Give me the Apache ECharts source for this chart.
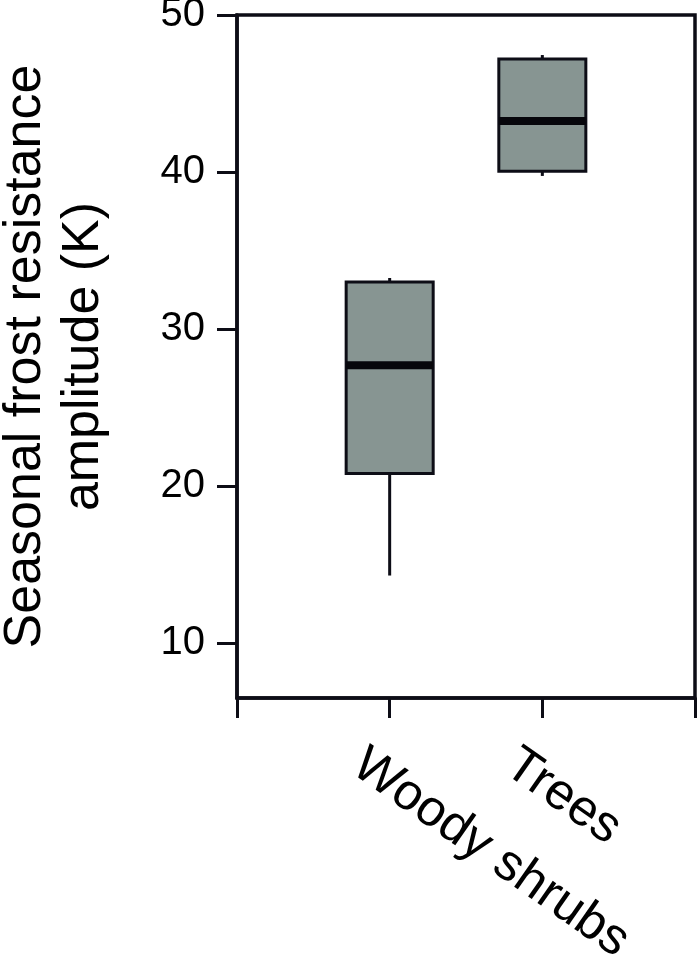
<!DOCTYPE html>
<html>
<head>
<meta charset="utf-8">
<script src="https://cdn.jsdelivr.net/npm/echarts@6/dist/echarts.min.js"></script>
<style>
html,body{margin:0;padding:0;background:#fff;}
#chart{width:700px;height:967px;}
</style>
</head>
<body>
<div id="chart"></div>
<script>
var categories = ['Woody shrubs', 'Trees'];
var minVals = [14.3, 39.75];
var q1Vals = [20.8, 40.05];
var medianVals = [27.7, 43.25];
var q3Vals = [33.0, 47.2];
var maxVals = [33.25, 47.45];
var yTicks = [10, 20, 30, 40, 50];
var yName = 'Seasonal frost resistance\namplitude (K)';

var boxData = categories.map(function (c, i) {
  return [i + 1, minVals[i], q1Vals[i], medianVals[i], q3Vals[i], maxVals[i]];
});

var ink = '#0d0d16';
var font = 'Liberation Sans, Arial, sans-serif';

var chart = echarts.init(document.getElementById('chart'), null, {renderer: 'canvas'});
chart.setOption({
  animation: false,
  backgroundColor: '#fff',
  grid: {left: 237, right: 5, top: 15, bottom: 269, containLabel: false, outerBoundsMode: 'none',
    show: true, borderColor: ink, borderWidth: 3.5, backgroundColor: 'transparent'},
  xAxis: {
    type: 'value', min: 0, max: 3, interval: 1,
    splitLine: {show: false},
    axisLine: {show: true, lineStyle: {color: ink, width: 3.5}},
    axisTick: {show: true, length: 20, lineStyle: {color: ink, width: 3}},
    axisLabel: {
      show: true, rotate: -35, margin: 16, align: 'left', verticalAlign: 'top', lineHeight: 112,
      fontSize: 51, fontFamily: font, color: '#000',
      formatter: function (v) { return categories[v - 1] || ''; }
    }
  },
  yAxis: {
    type: 'value', min: 6.5, max: 50,
    splitLine: {show: false},
    axisLine: {show: true, lineStyle: {color: ink, width: 3.5}},
    axisTick: {show: true, length: 20, lineStyle: {color: ink, width: 3}, customValues: yTicks},
    axisLabel: {show: true, margin: 32, fontSize: 40, fontFamily: font, color: '#000', customValues: yTicks},
    name: yName, nameLocation: 'middle', nameGap: 124,
    nameTextStyle: {fontSize: 52, fontFamily: font, color: '#000', lineHeight: 58, align: 'center'}
  },
  series: [{
    type: 'custom',
    data: boxData,
    encode: {x: 0, y: [1, 2, 3, 4, 5]},
    renderItem: function (params, api) {
      var x = api.value(0);
      var pMin = api.coord([x, api.value(1)]);
      var pQ1 = api.coord([x, api.value(2)]);
      var pMed = api.coord([x, api.value(3)]);
      var pQ3 = api.coord([x, api.value(4)]);
      var pMax = api.coord([x, api.value(5)]);
      var w = api.size([1, 0])[0] * 0.57;
      var cx = pMed[0];
      return {
        type: 'group',
        children: [
          {type: 'line', shape: {x1: cx, y1: pMax[1], x2: cx, y2: pQ3[1]}, style: {stroke: ink, lineWidth: 3}},
          {type: 'line', shape: {x1: cx, y1: pQ1[1], x2: cx, y2: pMin[1]}, style: {stroke: ink, lineWidth: 3}},
          {type: 'rect', shape: {x: cx - w / 2, y: pQ3[1], width: w, height: pQ1[1] - pQ3[1]}, style: {fill: '#879592', stroke: ink, lineWidth: 3}},
          {type: 'rect', shape: {x: cx - w / 2, y: pMed[1] - 4, width: w, height: 8}, style: {fill: '#07070c'}}
        ]
      };
    }
  }]
});
</script>
</body>
</html>
